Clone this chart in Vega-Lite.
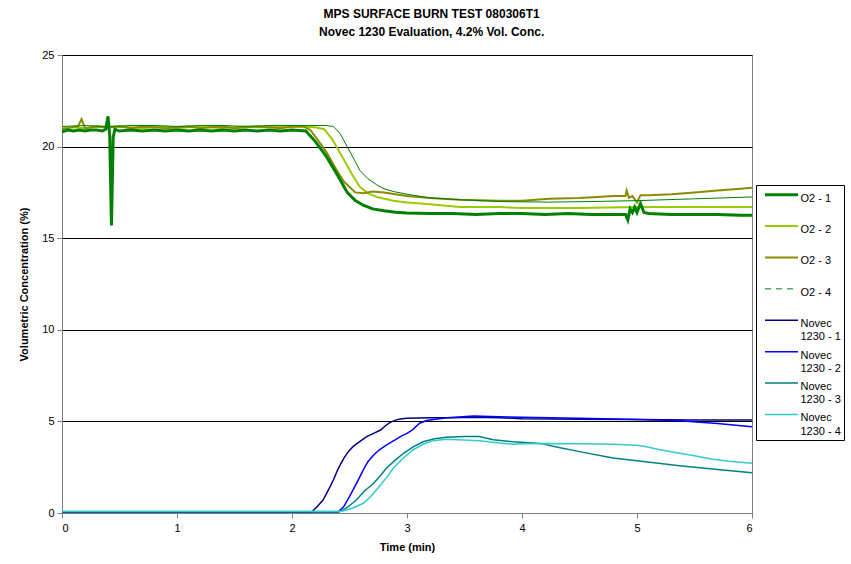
{
  "$schema": "https://vega.github.io/schema/vega-lite/v6.json",
  "width": 690,
  "height": 458,
  "autosize": {"type": "none"},
  "padding": {"left": 62, "top": 55, "right": 99, "bottom": 51},
  "background": "white",
  "config": {"font": "Liberation Sans", "view": {"stroke": "#808080", "strokeWidth": 1}},
  "title": {"text": "MPS SURFACE BURN TEST 080306T1", "subtitle": "Novec 1230 Evaluation, 4.2% Vol. Conc.", "fontSize": 12, "subtitleFontSize": 12, "fontWeight": "bold", "subtitleFontWeight": "bold", "color": "black", "subtitleColor": "black", "anchor": "middle", "frame": "bounds", "offset": 10, "subtitlePadding": 6},
  "data": {"values": [
    {"s":"O2 - 2","t":0,"v":21.0},{"s":"O2 - 2","t":0.1,"v":21.05},{"s":"O2 - 2","t":0.2,"v":21.0},{"s":"O2 - 2","t":0.3,"v":21.1},{"s":"O2 - 2","t":0.4,"v":21.05},{"s":"O2 - 2","t":0.5,"v":21.1},{"s":"O2 - 2","t":0.6,"v":21.05},{"s":"O2 - 2","t":0.7,"v":21.0},{"s":"O2 - 2","t":0.8,"v":21.05},{"s":"O2 - 2","t":0.9,"v":21.1},{"s":"O2 - 2","t":1.0,"v":21.0},{"s":"O2 - 2","t":1.1,"v":21.05},{"s":"O2 - 2","t":1.2,"v":21.1},{"s":"O2 - 2","t":1.3,"v":21.05},{"s":"O2 - 2","t":1.4,"v":21.0},{"s":"O2 - 2","t":1.5,"v":21.05},{"s":"O2 - 2","t":1.6,"v":21.1},{"s":"O2 - 2","t":1.7,"v":21.05},{"s":"O2 - 2","t":1.8,"v":21.05},{"s":"O2 - 2","t":1.9,"v":21.1},{"s":"O2 - 2","t":2.0,"v":21.05},{"s":"O2 - 2","t":2.1,"v":21.1},{"s":"O2 - 2","t":2.2,"v":21.05},{"s":"O2 - 2","t":2.28,"v":20.95},{"s":"O2 - 2","t":2.35,"v":20.4},{"s":"O2 - 2","t":2.45,"v":19.3},{"s":"O2 - 2","t":2.52,"v":18.5},{"s":"O2 - 2","t":2.59,"v":17.8},{"s":"O2 - 2","t":2.66,"v":17.45},{"s":"O2 - 2","t":2.74,"v":17.25},{"s":"O2 - 2","t":2.88,"v":17.05},{"s":"O2 - 2","t":3.0,"v":16.95},{"s":"O2 - 2","t":3.2,"v":16.85},{"s":"O2 - 2","t":3.46,"v":16.7},{"s":"O2 - 2","t":3.8,"v":16.7},{"s":"O2 - 2","t":4.0,"v":16.65},{"s":"O2 - 2","t":4.5,"v":16.65},{"s":"O2 - 2","t":5.0,"v":16.7},{"s":"O2 - 2","t":5.5,"v":16.7},{"s":"O2 - 2","t":6.0,"v":16.7},
    {"s":"O2 - 3","t":0,"v":20.95},{"s":"O2 - 3","t":0.08,"v":21.05},{"s":"O2 - 3","t":0.14,"v":21.1},{"s":"O2 - 3","t":0.17,"v":21.5},{"s":"O2 - 3","t":0.2,"v":21.0},{"s":"O2 - 3","t":0.25,"v":21.05},{"s":"O2 - 3","t":0.3,"v":21.1},{"s":"O2 - 3","t":0.4,"v":21.05},{"s":"O2 - 3","t":0.5,"v":21.1},{"s":"O2 - 3","t":0.6,"v":21.0},{"s":"O2 - 3","t":0.7,"v":21.1},{"s":"O2 - 3","t":0.8,"v":21.05},{"s":"O2 - 3","t":0.9,"v":21.0},{"s":"O2 - 3","t":1.0,"v":21.05},{"s":"O2 - 3","t":1.1,"v":21.1},{"s":"O2 - 3","t":1.2,"v":21.0},{"s":"O2 - 3","t":1.3,"v":21.05},{"s":"O2 - 3","t":1.4,"v":21.1},{"s":"O2 - 3","t":1.5,"v":21.0},{"s":"O2 - 3","t":1.6,"v":21.05},{"s":"O2 - 3","t":1.7,"v":21.1},{"s":"O2 - 3","t":1.8,"v":21.05},{"s":"O2 - 3","t":1.9,"v":21.0},{"s":"O2 - 3","t":2.0,"v":21.1},{"s":"O2 - 3","t":2.1,"v":21.1},{"s":"O2 - 3","t":2.16,"v":20.9},{"s":"O2 - 3","t":2.22,"v":20.4},{"s":"O2 - 3","t":2.3,"v":19.7},{"s":"O2 - 3","t":2.38,"v":18.8},{"s":"O2 - 3","t":2.45,"v":18.1},{"s":"O2 - 3","t":2.5,"v":17.8},{"s":"O2 - 3","t":2.55,"v":17.5},{"s":"O2 - 3","t":2.62,"v":17.45},{"s":"O2 - 3","t":2.7,"v":17.55},{"s":"O2 - 3","t":2.8,"v":17.5},{"s":"O2 - 3","t":2.9,"v":17.4},{"s":"O2 - 3","t":3.0,"v":17.3},{"s":"O2 - 3","t":3.2,"v":17.2},{"s":"O2 - 3","t":3.46,"v":17.1},{"s":"O2 - 3","t":3.8,"v":17.05},{"s":"O2 - 3","t":4.0,"v":17.05},{"s":"O2 - 3","t":4.24,"v":17.15},{"s":"O2 - 3","t":4.5,"v":17.2},{"s":"O2 - 3","t":4.8,"v":17.3},{"s":"O2 - 3","t":4.9,"v":17.3},{"s":"O2 - 3","t":4.91,"v":17.6},{"s":"O2 - 3","t":4.93,"v":17.2},{"s":"O2 - 3","t":4.96,"v":17.3},{"s":"O2 - 3","t":5.0,"v":16.95},{"s":"O2 - 3","t":5.03,"v":17.35},{"s":"O2 - 3","t":5.1,"v":17.35},{"s":"O2 - 3","t":5.3,"v":17.4},{"s":"O2 - 3","t":5.5,"v":17.5},{"s":"O2 - 3","t":5.7,"v":17.6},{"s":"O2 - 3","t":5.9,"v":17.7},{"s":"O2 - 3","t":6.0,"v":17.75},
    {"s":"O2 - 4","t":0,"v":21.1},{"s":"O2 - 4","t":0.2,"v":21.15},{"s":"O2 - 4","t":0.4,"v":21.1},{"s":"O2 - 4","t":0.6,"v":21.15},{"s":"O2 - 4","t":0.8,"v":21.15},{"s":"O2 - 4","t":1.0,"v":21.1},{"s":"O2 - 4","t":1.2,"v":21.15},{"s":"O2 - 4","t":1.4,"v":21.15},{"s":"O2 - 4","t":1.6,"v":21.1},{"s":"O2 - 4","t":1.8,"v":21.15},{"s":"O2 - 4","t":2.0,"v":21.15},{"s":"O2 - 4","t":2.2,"v":21.15},{"s":"O2 - 4","t":2.3,"v":21.15},{"s":"O2 - 4","t":2.36,"v":21.1},{"s":"O2 - 4","t":2.42,"v":20.7},{"s":"O2 - 4","t":2.48,"v":20.0},{"s":"O2 - 4","t":2.54,"v":19.3},{"s":"O2 - 4","t":2.59,"v":18.7},{"s":"O2 - 4","t":2.66,"v":18.25},{"s":"O2 - 4","t":2.74,"v":17.9},{"s":"O2 - 4","t":2.8,"v":17.7},{"s":"O2 - 4","t":2.88,"v":17.55},{"s":"O2 - 4","t":3.0,"v":17.4},{"s":"O2 - 4","t":3.2,"v":17.2},{"s":"O2 - 4","t":3.46,"v":17.1},{"s":"O2 - 4","t":3.8,"v":17.0},{"s":"O2 - 4","t":4.24,"v":16.97},{"s":"O2 - 4","t":4.6,"v":17.0},{"s":"O2 - 4","t":5.0,"v":17.05},{"s":"O2 - 4","t":5.5,"v":17.15},{"s":"O2 - 4","t":6.0,"v":17.25},
    {"s":"O2 - 1","t":0,"v":20.8},{"s":"O2 - 1","t":0.05,"v":20.9},{"s":"O2 - 1","t":0.1,"v":20.85},{"s":"O2 - 1","t":0.15,"v":20.9},{"s":"O2 - 1","t":0.2,"v":20.85},{"s":"O2 - 1","t":0.25,"v":20.9},{"s":"O2 - 1","t":0.3,"v":20.9},{"s":"O2 - 1","t":0.35,"v":20.85},{"s":"O2 - 1","t":0.38,"v":20.95},{"s":"O2 - 1","t":0.4,"v":21.65},{"s":"O2 - 1","t":0.415,"v":20.6},{"s":"O2 - 1","t":0.43,"v":15.7},{"s":"O2 - 1","t":0.445,"v":20.5},{"s":"O2 - 1","t":0.46,"v":20.95},{"s":"O2 - 1","t":0.5,"v":20.85},{"s":"O2 - 1","t":0.6,"v":20.9},{"s":"O2 - 1","t":0.7,"v":20.85},{"s":"O2 - 1","t":0.8,"v":20.9},{"s":"O2 - 1","t":0.9,"v":20.85},{"s":"O2 - 1","t":1.0,"v":20.9},{"s":"O2 - 1","t":1.1,"v":20.85},{"s":"O2 - 1","t":1.2,"v":20.9},{"s":"O2 - 1","t":1.3,"v":20.85},{"s":"O2 - 1","t":1.4,"v":20.9},{"s":"O2 - 1","t":1.5,"v":20.85},{"s":"O2 - 1","t":1.6,"v":20.9},{"s":"O2 - 1","t":1.7,"v":20.85},{"s":"O2 - 1","t":1.8,"v":20.9},{"s":"O2 - 1","t":1.9,"v":20.85},{"s":"O2 - 1","t":2.0,"v":20.9},{"s":"O2 - 1","t":2.12,"v":20.85},{"s":"O2 - 1","t":2.2,"v":20.3},{"s":"O2 - 1","t":2.3,"v":19.45},{"s":"O2 - 1","t":2.4,"v":18.4},{"s":"O2 - 1","t":2.48,"v":17.5},{"s":"O2 - 1","t":2.55,"v":17.05},{"s":"O2 - 1","t":2.62,"v":16.8},{"s":"O2 - 1","t":2.7,"v":16.6},{"s":"O2 - 1","t":2.8,"v":16.5},{"s":"O2 - 1","t":2.9,"v":16.42},{"s":"O2 - 1","t":3.0,"v":16.38},{"s":"O2 - 1","t":3.2,"v":16.35},{"s":"O2 - 1","t":3.4,"v":16.35},{"s":"O2 - 1","t":3.6,"v":16.3},{"s":"O2 - 1","t":3.8,"v":16.35},{"s":"O2 - 1","t":4.0,"v":16.35},{"s":"O2 - 1","t":4.2,"v":16.3},{"s":"O2 - 1","t":4.4,"v":16.35},{"s":"O2 - 1","t":4.6,"v":16.3},{"s":"O2 - 1","t":4.8,"v":16.3},{"s":"O2 - 1","t":4.9,"v":16.3},{"s":"O2 - 1","t":4.92,"v":16.0},{"s":"O2 - 1","t":4.94,"v":16.6},{"s":"O2 - 1","t":4.96,"v":16.4},{"s":"O2 - 1","t":4.98,"v":16.7},{"s":"O2 - 1","t":5.0,"v":16.4},{"s":"O2 - 1","t":5.03,"v":16.9},{"s":"O2 - 1","t":5.06,"v":16.4},{"s":"O2 - 1","t":5.1,"v":16.35},{"s":"O2 - 1","t":5.3,"v":16.3},{"s":"O2 - 1","t":5.5,"v":16.3},{"s":"O2 - 1","t":5.7,"v":16.3},{"s":"O2 - 1","t":5.9,"v":16.25},{"s":"O2 - 1","t":6.0,"v":16.25},
    {"s":"Novec 1230 - 1","t":0,"v":0.05},{"s":"Novec 1230 - 1","t":1,"v":0.05},{"s":"Novec 1230 - 1","t":2,"v":0.05},{"s":"Novec 1230 - 1","t":2.17,"v":0.05},{"s":"Novec 1230 - 1","t":2.22,"v":0.35},{"s":"Novec 1230 - 1","t":2.27,"v":0.71},{"s":"Novec 1230 - 1","t":2.32,"v":1.3},{"s":"Novec 1230 - 1","t":2.36,"v":1.8},{"s":"Novec 1230 - 1","t":2.4,"v":2.4},{"s":"Novec 1230 - 1","t":2.45,"v":2.98},{"s":"Novec 1230 - 1","t":2.49,"v":3.35},{"s":"Novec 1230 - 1","t":2.53,"v":3.62},{"s":"Novec 1230 - 1","t":2.6,"v":3.95},{"s":"Novec 1230 - 1","t":2.65,"v":4.17},{"s":"Novec 1230 - 1","t":2.71,"v":4.35},{"s":"Novec 1230 - 1","t":2.77,"v":4.53},{"s":"Novec 1230 - 1","t":2.81,"v":4.75},{"s":"Novec 1230 - 1","t":2.85,"v":4.93},{"s":"Novec 1230 - 1","t":2.9,"v":5.07},{"s":"Novec 1230 - 1","t":2.94,"v":5.13},{"s":"Novec 1230 - 1","t":3.0,"v":5.17},{"s":"Novec 1230 - 1","t":3.2,"v":5.2},{"s":"Novec 1230 - 1","t":3.4,"v":5.2},{"s":"Novec 1230 - 1","t":3.6,"v":5.22},{"s":"Novec 1230 - 1","t":3.8,"v":5.2},{"s":"Novec 1230 - 1","t":4.0,"v":5.15},{"s":"Novec 1230 - 1","t":4.5,"v":5.12},{"s":"Novec 1230 - 1","t":5.0,"v":5.1},{"s":"Novec 1230 - 1","t":5.5,"v":5.08},{"s":"Novec 1230 - 1","t":6.0,"v":5.08},
    {"s":"Novec 1230 - 2","t":0,"v":0.05},{"s":"Novec 1230 - 2","t":1,"v":0.05},{"s":"Novec 1230 - 2","t":2,"v":0.05},{"s":"Novec 1230 - 2","t":2.4,"v":0.05},{"s":"Novec 1230 - 2","t":2.45,"v":0.35},{"s":"Novec 1230 - 2","t":2.5,"v":0.89},{"s":"Novec 1230 - 2","t":2.56,"v":1.6},{"s":"Novec 1230 - 2","t":2.62,"v":2.35},{"s":"Novec 1230 - 2","t":2.66,"v":2.8},{"s":"Novec 1230 - 2","t":2.71,"v":3.17},{"s":"Novec 1230 - 2","t":2.76,"v":3.45},{"s":"Novec 1230 - 2","t":2.82,"v":3.71},{"s":"Novec 1230 - 2","t":2.9,"v":4.0},{"s":"Novec 1230 - 2","t":2.95,"v":4.2},{"s":"Novec 1230 - 2","t":3.0,"v":4.35},{"s":"Novec 1230 - 2","t":3.05,"v":4.55},{"s":"Novec 1230 - 2","t":3.11,"v":4.9},{"s":"Novec 1230 - 2","t":3.17,"v":5.05},{"s":"Novec 1230 - 2","t":3.23,"v":5.11},{"s":"Novec 1230 - 2","t":3.35,"v":5.2},{"s":"Novec 1230 - 2","t":3.58,"v":5.3},{"s":"Novec 1230 - 2","t":3.8,"v":5.25},{"s":"Novec 1230 - 2","t":4.0,"v":5.22},{"s":"Novec 1230 - 2","t":4.5,"v":5.17},{"s":"Novec 1230 - 2","t":5.0,"v":5.1},{"s":"Novec 1230 - 2","t":5.37,"v":5.04},{"s":"Novec 1230 - 2","t":5.7,"v":4.88},{"s":"Novec 1230 - 2","t":6.0,"v":4.71},
    {"s":"Novec 1230 - 3","t":0,"v":0.05},{"s":"Novec 1230 - 3","t":1,"v":0.05},{"s":"Novec 1230 - 3","t":2,"v":0.05},{"s":"Novec 1230 - 3","t":2.41,"v":0.05},{"s":"Novec 1230 - 3","t":2.48,"v":0.3},{"s":"Novec 1230 - 3","t":2.56,"v":0.71},{"s":"Novec 1230 - 3","t":2.63,"v":1.2},{"s":"Novec 1230 - 3","t":2.71,"v":1.62},{"s":"Novec 1230 - 3","t":2.77,"v":2.05},{"s":"Novec 1230 - 3","t":2.82,"v":2.44},{"s":"Novec 1230 - 3","t":2.9,"v":2.9},{"s":"Novec 1230 - 3","t":2.97,"v":3.26},{"s":"Novec 1230 - 3","t":3.05,"v":3.6},{"s":"Novec 1230 - 3","t":3.14,"v":3.89},{"s":"Novec 1230 - 3","t":3.24,"v":4.05},{"s":"Novec 1230 - 3","t":3.34,"v":4.13},{"s":"Novec 1230 - 3","t":3.5,"v":4.17},{"s":"Novec 1230 - 3","t":3.63,"v":4.17},{"s":"Novec 1230 - 3","t":3.75,"v":4.0},{"s":"Novec 1230 - 3","t":3.92,"v":3.89},{"s":"Novec 1230 - 3","t":4.16,"v":3.8},{"s":"Novec 1230 - 3","t":4.3,"v":3.6},{"s":"Novec 1230 - 3","t":4.5,"v":3.35},{"s":"Novec 1230 - 3","t":4.79,"v":3.0},{"s":"Novec 1230 - 3","t":5.0,"v":2.85},{"s":"Novec 1230 - 3","t":5.37,"v":2.58},{"s":"Novec 1230 - 3","t":5.7,"v":2.38},{"s":"Novec 1230 - 3","t":6.0,"v":2.2},
    {"s":"Novec 1230 - 4","t":0,"v":0.1},{"s":"Novec 1230 - 4","t":1,"v":0.1},{"s":"Novec 1230 - 4","t":2,"v":0.1},{"s":"Novec 1230 - 4","t":2.43,"v":0.1},{"s":"Novec 1230 - 4","t":2.52,"v":0.25},{"s":"Novec 1230 - 4","t":2.62,"v":0.53},{"s":"Novec 1230 - 4","t":2.7,"v":1.0},{"s":"Novec 1230 - 4","t":2.77,"v":1.53},{"s":"Novec 1230 - 4","t":2.83,"v":2.0},{"s":"Novec 1230 - 4","t":2.88,"v":2.44},{"s":"Novec 1230 - 4","t":2.96,"v":2.95},{"s":"Novec 1230 - 4","t":3.05,"v":3.44},{"s":"Novec 1230 - 4","t":3.14,"v":3.75},{"s":"Novec 1230 - 4","t":3.23,"v":3.95},{"s":"Novec 1230 - 4","t":3.34,"v":4.02},{"s":"Novec 1230 - 4","t":3.5,"v":3.98},{"s":"Novec 1230 - 4","t":3.63,"v":3.95},{"s":"Novec 1230 - 4","t":3.8,"v":3.82},{"s":"Novec 1230 - 4","t":3.92,"v":3.75},{"s":"Novec 1230 - 4","t":4.0,"v":3.78},{"s":"Novec 1230 - 4","t":4.21,"v":3.8},{"s":"Novec 1230 - 4","t":4.5,"v":3.78},{"s":"Novec 1230 - 4","t":4.79,"v":3.75},{"s":"Novec 1230 - 4","t":5.0,"v":3.7},{"s":"Novec 1230 - 4","t":5.08,"v":3.62},{"s":"Novec 1230 - 4","t":5.2,"v":3.45},{"s":"Novec 1230 - 4","t":5.37,"v":3.26},{"s":"Novec 1230 - 4","t":5.5,"v":3.12},{"s":"Novec 1230 - 4","t":5.66,"v":2.93},{"s":"Novec 1230 - 4","t":5.8,"v":2.82},{"s":"Novec 1230 - 4","t":6.0,"v":2.71}
  ]},
  "mark": {"type": "line", "interpolate": "linear", "clip": true},
  "encoding": {
    "x": {"field": "t", "type": "quantitative", "scale": {"domain": [0, 6], "nice": false},
      "axis": {"title": "Time (min)", "values": [0,1,2,3,4,5,6], "format": "d", "grid": false, "domainColor": "#808080", "tickColor": "#808080", "tickSize": 5, "labelFontSize": 11, "labelColor": "black", "titleFontSize": 11, "titleFontWeight": "bold", "titleColor": "black", "labelPadding": 4, "titlePadding": 8}},
    "y": {"field": "v", "type": "quantitative", "scale": {"domain": [0, 25], "nice": false},
      "axis": {"title": "Volumetric Concentration (%)", "values": [0,5,10,15,20,25], "grid": true, "gridColor": "black", "gridOpacity": 1, "gridWidth": 1, "domainColor": "#808080", "tickColor": "#808080", "tickSize": 5, "labelFontSize": 11, "labelColor": "black", "titleFontSize": 11, "titleFontWeight": "bold", "titleColor": "black", "labelPadding": 3, "titlePadding": 12}},
    "color": {"field": "s", "type": "nominal",
      "scale": {"domain": ["O2 - 1","O2 - 2","O2 - 3","O2 - 4","Novec 1230 - 1","Novec 1230 - 2","Novec 1230 - 3","Novec 1230 - 4"],
        "range": ["#008000","#99CC00","#8B8B00","#008000","#000080","#0000FF","#008080","#33CCCC"]},
      "legend": {"orient": "none", "legendX": 694, "legendY": 130, "title": null, "strokeColor": "black", "fillColor": "white", "padding": 3, "symbolType": "stroke", "symbolSize": 100, "labelFontSize": 11, "labelColor": "black", "rowPadding": 2.4,
        "labelExpr": "indexof(datum.label, 'Novec') == 0 ? ['Novec', replace(datum.label, 'Novec ', '')] : [datum.label, '']",
        "encode": {"labels": {"update": {"lineHeight": {"value": 13.3}, "x": {"value": 41.5}, "y": {"value": 10.5}, "baseline": {"value": "middle"}, "align": {"value": "left"}}},
                   "symbols": {"update": {"size": {"value": 1089}, "x": {"value": 22.5}, "y": {"value": 6.65}, "strokeDash": {"signal": "datum.value == 'O2 - 4' ? [6, 5] : [1, 0]"}}}}}},
    "strokeWidth": {"field": "s", "type": "nominal",
      "scale": {"type": "ordinal", "domain": ["O2 - 1","O2 - 2","O2 - 3","O2 - 4","Novec 1230 - 1","Novec 1230 - 2","Novec 1230 - 3","Novec 1230 - 4"],
        "range": [3, 2, 2, 1, 1.5, 1.5, 1.5, 1.5]},
      "legend": {"orient": "none", "legendX": 694, "legendY": 130, "title": null, "strokeColor": "black", "fillColor": "white", "padding": 3, "symbolType": "stroke", "symbolSize": 100, "labelFontSize": 11, "labelColor": "black", "rowPadding": 2.4,
        "labelExpr": "indexof(datum.label, 'Novec') == 0 ? ['Novec', replace(datum.label, 'Novec ', '')] : [datum.label, '']",
        "encode": {"labels": {"update": {"lineHeight": {"value": 13.3}, "x": {"value": 41.5}, "y": {"value": 10.5}, "baseline": {"value": "middle"}, "align": {"value": "left"}}},
                   "symbols": {"update": {"size": {"value": 1089}, "x": {"value": 22.5}, "y": {"value": 6.65}, "strokeDash": {"signal": "datum.value == 'O2 - 4' ? [6, 5] : [1, 0]"}}}}}}
  }
}
